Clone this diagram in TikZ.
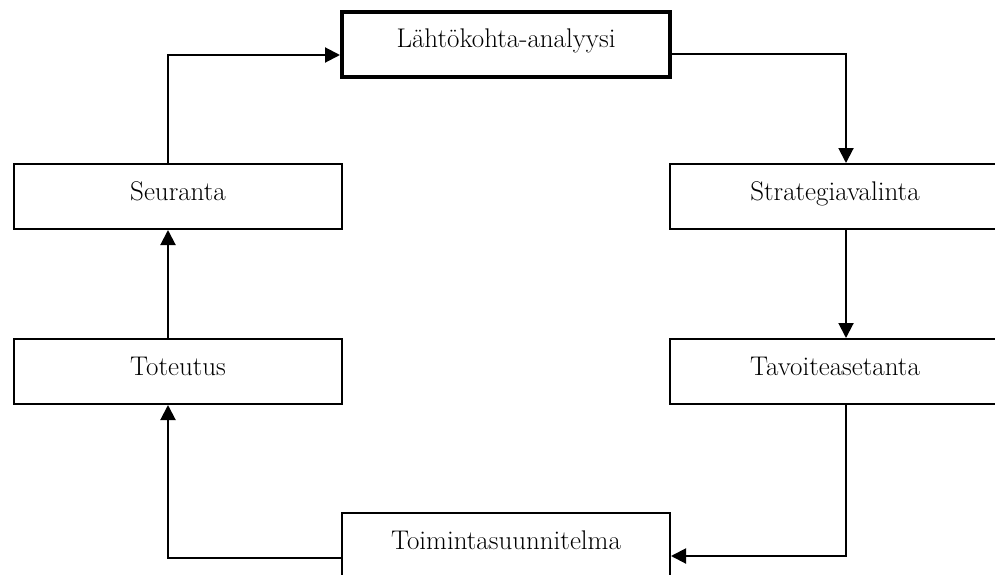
\documentclass[tikz,border=0pt]{standalone}
\usetikzlibrary{arrows.meta,positioning}
\begin{document}
\begin{tikzpicture}[x=1pt,y=-1pt,
  stage/.style={draw,line width=2pt,minimum width=328pt,minimum height=65pt,
    inner sep=0pt,text height=13pt,text depth=6pt,anchor=north west,
    font=\fontsize{27}{30}\selectfont},
  startbox/.style={stage,line width=4pt},
  flow/.style={line width=2pt,-{Triangle[length=15pt,width=15pt]}}]
\useasboundingbox[fill=white] (0,0) rectangle (995,575);

% stages of the cycle
\node[startbox] (lk) at (340,10) {Lähtökohta-analyysi};
\node[stage,minimum width=330pt] (sv) at (669,163) {Strategiavalinta};
\node[stage,minimum width=330pt] (ta) at (669,338) {Tavoiteasetanta};
\node[stage] (ts) at (341,512) {Toimintasuunnitelma};
\node[stage] (to) at (13,338) {Toteutus};
\node[stage] (se) at (13,163) {Seuranta};

% connectors around the cycle
\draw[flow] ([yshift=-10pt]lk.east) -| ([xshift=11pt]sv.north);
\draw[flow] ([xshift=11pt]sv.south) -- ([xshift=11pt]ta.north);
\draw[flow] ([xshift=11pt]ta.south) |- ([yshift=-10.5pt]ts.east);
\draw[flow] ([yshift=-12pt]ts.west) -| ([xshift=-10pt]to.south);
\draw[flow] ([xshift=-10pt]to.north) -- ([xshift=-10pt]se.south);
\draw[flow] ([xshift=-10pt]se.north) |- ([yshift=-10.5pt]lk.west);
\end{tikzpicture}
\end{document}
